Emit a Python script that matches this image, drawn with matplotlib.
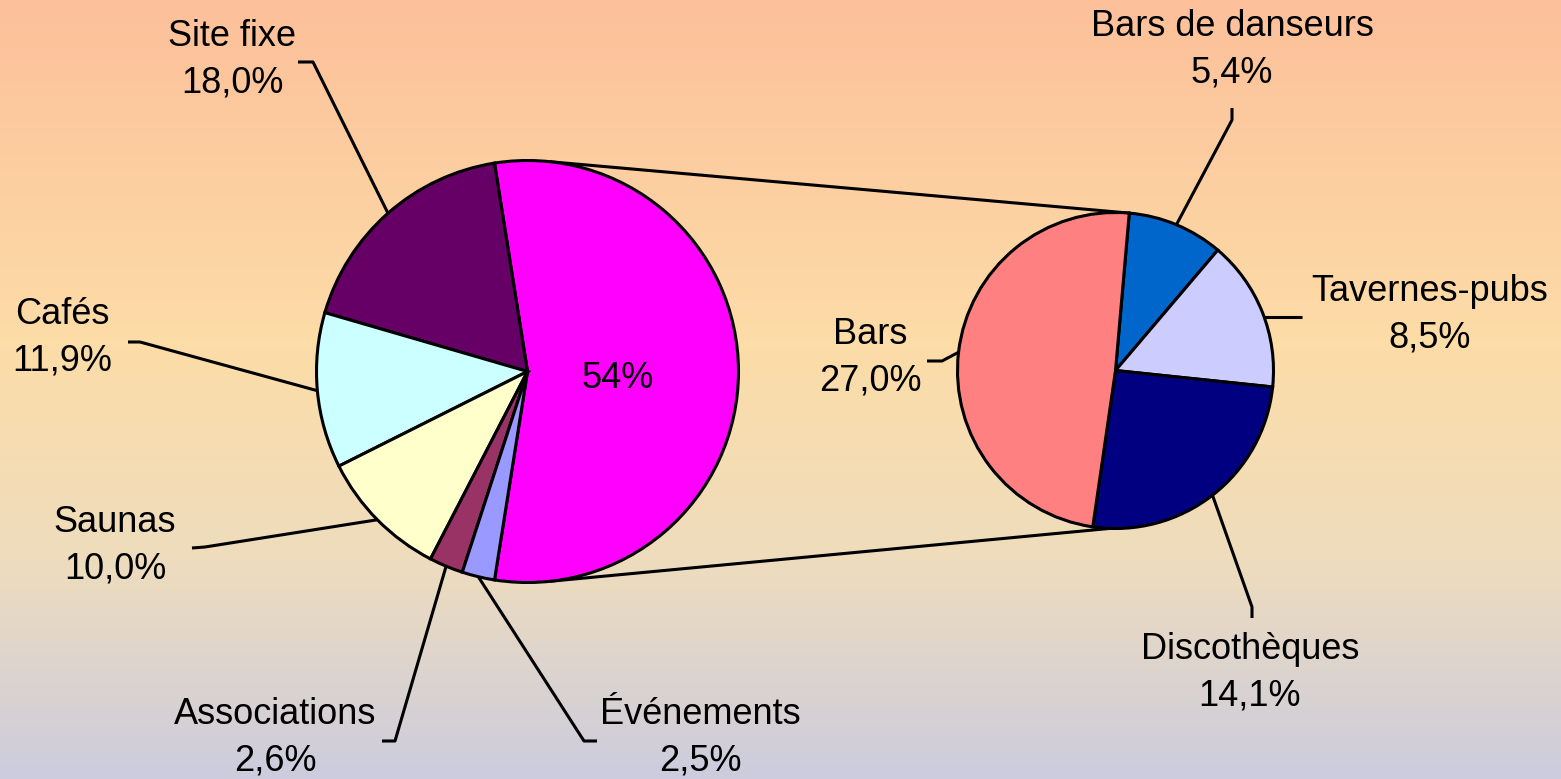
import numpy as np
import matplotlib
matplotlib.use("Agg")
import matplotlib.pyplot as plt
from matplotlib.colors import LinearSegmentedColormap

plt.rcParams['font.family'] = ['Liberation Sans', 'DejaVu Sans']

# ---- data ----
main_labels = ["Autres", "Site fixe", "Cafés", "Saunas", "Associations", "Événements"]
main_values = [55.0, 18.0, 11.9, 10.0, 2.6, 2.5]
main_texts = ["", "18,0%", "11,9%", "10,0%", "2,6%", "2,5%"]
main_colors = ["#FF00FF", "#660066", "#CCFFFF", "#FFFFCC", "#993366", "#9999FF"]
other_text = "54%"

sub_labels = ["Bars de danseurs", "Tavernes-pubs", "Discothèques", "Bars"]
sub_values = [5.4, 8.5, 14.1, 27.0]
sub_texts = ["5,4%", "8,5%", "14,1%", "27,0%"]
sub_colors = ["#0066CC", "#CCCCFF", "#000080", "#FF8080"]

W, H = 1561, 779
fig = plt.figure(figsize=(W / 100, H / 100), dpi=100)

# background gradient
bg = fig.add_axes([0, 0, 1, 1])
bg.set_axis_off()
cmap = LinearSegmentedColormap.from_list(
    "bg", [(0.0, "#FDC09A"), (0.45, "#FCDDA8"), (0.72, "#EEDCBD"), (1.0, "#CCCCDE")])
grad = np.linspace(0, 1, 256).reshape(-1, 1)
bg.imshow(grad, aspect="auto", cmap=cmap, extent=[0, 1, 0, 1], origin="upper")
bg.set_xlim(0, 1)
bg.set_ylim(0, 1)

ax = fig.add_axes([0, 0, 1, 1])
ax.set_axis_off()
ax.patch.set_alpha(0)

lw = 2.2
FS = 26

def py(y):
    return H - y

c1 = (527.5, py(371.5)); r1 = 211
c2 = (1115.5, py(370.5)); r2 = 158

start1 = -main_values[0] / 100 * 360 / 2
ax.pie(main_values, colors=main_colors, startangle=start1, counterclock=True,
       radius=r1, center=c1, wedgeprops=dict(edgecolor="black", linewidth=lw),
       frame=True)
sub_total = sum(sub_values)
start2 = 85
ax.pie(sub_values, colors=sub_colors, startangle=start2, counterclock=False,
       radius=r2, center=c2, wedgeprops=dict(edgecolor="black", linewidth=lw),
       frame=True)
ax.set_xlim(0, W)
ax.set_ylim(0, H)
ax.set_aspect("equal")
ax.set_axis_off()

def edge_pt(center, r, ang):
    a = np.deg2rad(ang)
    return center[0] + r * np.cos(a), center[1] + r * np.sin(a)

# connector lines
top_a = 83.7
p1 = edge_pt(c1, r1, top_a)
q1 = edge_pt(c2, r2, start2)
p2 = edge_pt(c1, r1, -top_a)
q2 = edge_pt(c2, r2, -92)
ax.plot([p1[0], q1[0]], [p1[1], q1[1]], color="black", lw=lw, solid_capstyle="round", zorder=0.5)
ax.plot([p2[0], q2[0]], [p2[1], q2[1]], color="black", lw=lw, solid_capstyle="round", zorder=0.5)

# "54%" label
ax.text(618, py(378), other_text, fontsize=FS, ha="center", va="center")

# label text centre, elbow points (pixels)
main_label_pos = {
    "Site fixe": ((232, 60), [(298, 62), (313, 62)]),
    "Cafés": ((62, 338), [(128, 342), (140, 342)]),
    "Saunas": ((115, 546), [(192, 548), (205, 547)]),
    "Associations": ((275, 738), [(382, 741), (395, 741)]),
    "Événements": ((700, 738), [(597, 741), (584, 741)]),
}
sub_label_pos = {
    "Bars de danseurs": ((1232, 50), [(1232, 108), (1232, 120)]),
    "Tavernes-pubs": ((1430, 315), [(1302, 317)]),
    "Discothèques": ((1250, 673), [(1252, 618), (1252, 607)]),
    "Bars": ((870, 358), [(927, 361), (942, 361)]),
}
horizontal_end = {"Tavernes-pubs"}

def draw_label(name, txt, pos, center, r, mid):
    (tx, ty), elbows = pos
    ax.text(tx, py(ty), f"{name}\n{txt}", fontsize=FS, ha="center", va="center",
            linespacing=1.43)
    if name in horizontal_end:
        yy = py(elbows[-1][1])
        ex = center[0] + np.sqrt(r ** 2 - (yy - center[1]) ** 2)
        ey = yy
    else:
        ex, ey = edge_pt(center, r, mid)
    xs = [e[0] for e in elbows] + [ex]
    ys = [py(e[1]) for e in elbows] + [ey]
    ax.plot(xs, ys, color="black", lw=lw, solid_capstyle="butt", zorder=3)

cum = start1
for name, v, t in zip(main_labels, main_values, main_texts):
    span = v / 100 * 360
    mid = cum + span / 2
    cum += span
    if name in main_label_pos:
        draw_label(name, t, main_label_pos[name], c1, r1, mid)

cum = start2
for name, v, t in zip(sub_labels, sub_values, sub_texts):
    span = v / sub_total * 360
    mid = cum - span / 2
    cum -= span
    draw_label(name, t, sub_label_pos[name], c2, r2, mid)

fig.savefig("out.png", dpi=100)
